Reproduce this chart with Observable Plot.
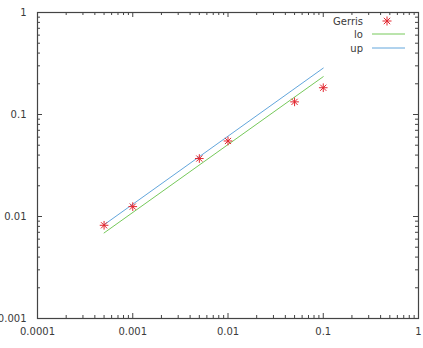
<!DOCTYPE html>
<html>
<head>
<meta charset="utf-8">
<script src="https://cdn.jsdelivr.net/npm/d3@7"></script>
<script src="https://cdn.jsdelivr.net/npm/@observablehq/plot@0.6"></script>
<style>
  html, body { margin: 0; padding: 0; background: #fff; }
</style>
</head>
<body>
<div id="chart"></div>
<script>
// Data
const gerrisX = [0.0005, 0.001, 0.005, 0.01, 0.05, 0.1];
const gerrisY = [0.0082, 0.0125, 0.037, 0.055, 0.133, 0.183];
const lineX = [0.0005, 0.1];
const loY = [0.0069, 0.235];
const upY = [0.0083, 0.285];

// Axis ticks
const xMajor = [0.0001, 0.001, 0.01, 0.1, 1];
const xTickLabels = ["0.0001", "0.001", "0.01", "0.1", "1"];
const yMajor = [0.001, 0.01, 0.1, 1];
const yTickLabels = ["0.001", "0.01", "0.1", "1"];
const xMinor = [
  0.0002, 0.0003, 0.0004, 0.0005, 0.0006, 0.0007, 0.0008, 0.0009,
  0.002, 0.003, 0.004, 0.005, 0.006, 0.007, 0.008, 0.009,
  0.02, 0.03, 0.04, 0.05, 0.06, 0.07, 0.08, 0.09,
  0.2, 0.3, 0.4, 0.5, 0.6, 0.7, 0.8, 0.9
];
const yMinor = [
  0.002, 0.003, 0.004, 0.005, 0.006, 0.007, 0.008, 0.009,
  0.02, 0.03, 0.04, 0.05, 0.06, 0.07, 0.08, 0.09,
  0.2, 0.3, 0.4, 0.5, 0.6, 0.7, 0.8, 0.9
];

const seriesNames = ["Gerris", "lo", "up"];
const colors = {Gerris: "#e2262f", lo: "#76c95a", up: "#62a6dc"};

const gerris = gerrisX.map((x, i) => ({x, y: gerrisY[i]}));
const lo = lineX.map((x, i) => ({x, y: loY[i]}));
const up = lineX.map((x, i) => ({x, y: upY[i]}));

const W = 423, H = 348;
const mL = 37, mR = 5, mT = 12, mB = 30;
const fw = W - mL - mR, fh = H - mT - mB;
const majLen = 5, minLen = 3;
const axisColor = "#444";
const textColor = "#3a3a3a";

function legendMark(index, scales, values, dims) {
  const g = d3.create("svg:g");
  const right = dims.width - dims.marginRight;
  const top = dims.marginTop;
  const rows = [
    {name: seriesNames[0], y: top + 9},
    {name: seriesNames[1], y: top + 22},
    {name: seriesNames[2], y: top + 36}
  ];
  for (const r of rows) {
    g.append("text")
      .attr("x", right - 55).attr("y", r.y)
      .attr("text-anchor", "end").attr("dy", "0.35em")
      .attr("fill", textColor).attr("font-family", "DejaVu Sans").attr("font-size", 10)
      .text(r.name);
    if (r.name === "Gerris") {
      const cx = right - 31, cy = r.y, s = 4.5, d = 3.2;
      g.append("path")
        .attr("d", `M${cx - s},${cy}H${cx + s}M${cx},${cy - s}V${cy + s}M${cx - d},${cy - d}L${cx + d},${cy + d}M${cx - d},${cy + d}L${cx + d},${cy - d}`)
        .attr("stroke", colors.Gerris).attr("fill", "none");
    } else {
      g.append("line")
        .attr("x1", right - 46).attr("x2", right - 13)
        .attr("y1", r.y).attr("y2", r.y)
        .attr("stroke", colors[r.name]).attr("stroke-width", 1);
    }
  }
  return g.node();
}

const chart = Plot.plot({
  width: W, height: H,
  marginLeft: mL, marginRight: mR, marginTop: mT, marginBottom: mB,
  style: {fontFamily: "DejaVu Sans", fontSize: "10px", color: textColor, background: "#fff"},
  x: {type: "log", domain: [0.0001, 1]},
  y: {type: "log", domain: [0.001, 1]},
  marks: [
    // inward ticks, bottom/top
    Plot.tickX(xMajor, {x: d => d, insetTop: fh - majLen, stroke: axisColor}),
    Plot.tickX(xMajor, {x: d => d, insetBottom: fh - majLen, stroke: axisColor}),
    Plot.tickX(xMinor, {x: d => d, insetTop: fh - minLen, stroke: axisColor}),
    Plot.tickX(xMinor, {x: d => d, insetBottom: fh - minLen, stroke: axisColor}),
    // inward ticks, left/right
    Plot.tickY(yMajor, {y: d => d, insetRight: fw - majLen, stroke: axisColor}),
    Plot.tickY(yMajor, {y: d => d, insetLeft: fw - majLen, stroke: axisColor}),
    Plot.tickY(yMinor, {y: d => d, insetRight: fw - minLen, stroke: axisColor}),
    Plot.tickY(yMinor, {y: d => d, insetLeft: fw - minLen, stroke: axisColor}),
    Plot.frame({stroke: axisColor, strokeWidth: 1.2}),
    Plot.axisX({ticks: xMajor, tickSize: 0, tickPadding: 9, label: null,
      tickFormat: d => xTickLabels[xMajor.indexOf(d)]}),
    Plot.axisY({ticks: yMajor, tickSize: 0, tickPadding: 11, label: null,
      tickFormat: d => yTickLabels[yMajor.indexOf(d)]}),
    Plot.line(lo, {x: "x", y: "y", stroke: colors.lo, strokeWidth: 1}),
    Plot.line(up, {x: "x", y: "y", stroke: colors.up, strokeWidth: 1}),
    Plot.dot(gerris, {x: "x", y: "y", symbol: "plus", r: 2.9, stroke: colors.Gerris, strokeWidth: 1}),
    Plot.dot(gerris, {x: "x", y: "y", symbol: "times", r: 2.9, stroke: colors.Gerris, strokeWidth: 1}),
    legendMark
  ]
});
document.getElementById("chart").appendChild(chart);
</script>
</body>
</html>
